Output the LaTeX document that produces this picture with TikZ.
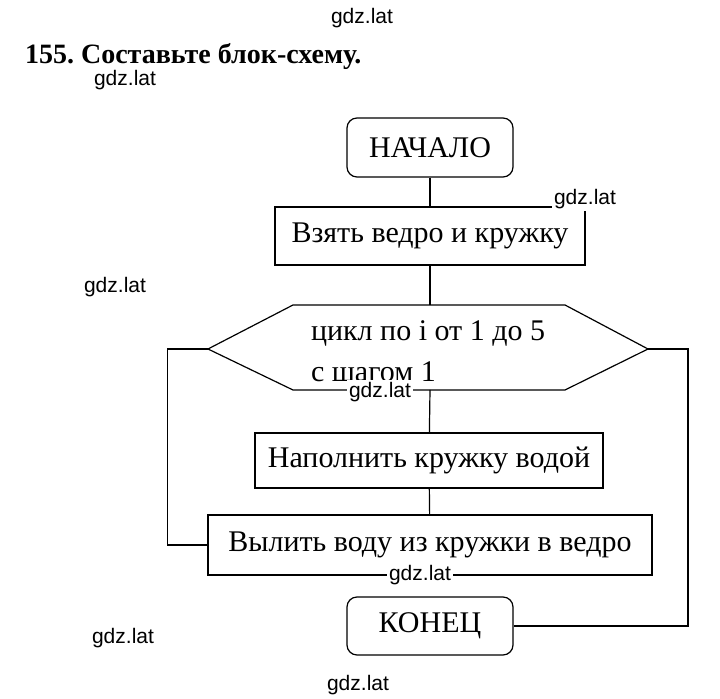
\documentclass[tikz,border=0pt]{standalone}
\usepackage{fontspec}
\setmainfont{Liberation Serif}
\newfontfamily\wmfont{Liberation Sans}
\usetikzlibrary{calc}

\begin{document}
\begin{tikzpicture}[x=0.5pt,y=-0.5pt,
  blk/.style={draw,semithick,inner sep=0pt,font=\fontsize{15}{17}\selectfont},
  term/.style={blk,rounded corners=5pt},
  wm/.style={font=\wmfont\fontsize{10.5}{12}\selectfont,fill=white,inner sep=1pt}]
\useasboundingbox (0,0) rectangle (720,699);

% Title
\node[anchor=west,font=\bfseries\fontsize{14}{16}\selectfont] (title) at (18,57) {155.~Составьте блок-схему.};

% Blocks
\node[term,minimum width=83pt,minimum height=29.5pt] (start) at (430,147.5) {НАЧАЛО};
\node[blk,minimum width=155pt,minimum height=29pt] (take) at (430,236) {Взять ведро и кружку};
\coordinate (hl) at (208,349);
\coordinate (hr) at (648,349);
\coordinate (ht) at (430,305);
\coordinate (hb) at (430,390);
\draw[semithick] (hl) -- (293,305) -- (565,305) -- (hr) -- (565,390) -- (293,390) -- cycle;
\node[anchor=west,font=\fontsize{15}{17}\selectfont] (loop1) at (304,333) {цикл по i от 1 до 5};
\node[anchor=west,font=\fontsize{15}{17}\selectfont] (loop2) at (304,372) {с шагом 1};
\node[blk,minimum width=174pt,minimum height=27.5pt] (fill) at (429,460.5) {Наполнить кружку водой};
\node[blk,minimum width=222pt,minimum height=30pt] (pour) at (430,545) {Вылить воду из кружки в ведро};
\node[term,minimum width=83pt,minimum height=29pt] (end) at (430,626) {КОНЕЦ};

% Connectors
\draw[semithick] (start) -- (take);
\draw[semithick] (take) -- (ht);
\draw[semithick] (hb) -- (fill);
\draw[semithick] (fill) -- (pour);
\draw[semithick] (pour.west) -- ++(-40,0) |- (hl);
\draw[semithick] (hr) -- ++(40,0) |- (end.east);

% Watermarks
\foreach \x/\y in {362/18,125/80,585/199,115/287,380/392,420/575,123/638,358/685}
  \node[wm] at (\x,\y) {gdz.lat};
\end{tikzpicture}
\end{document}
